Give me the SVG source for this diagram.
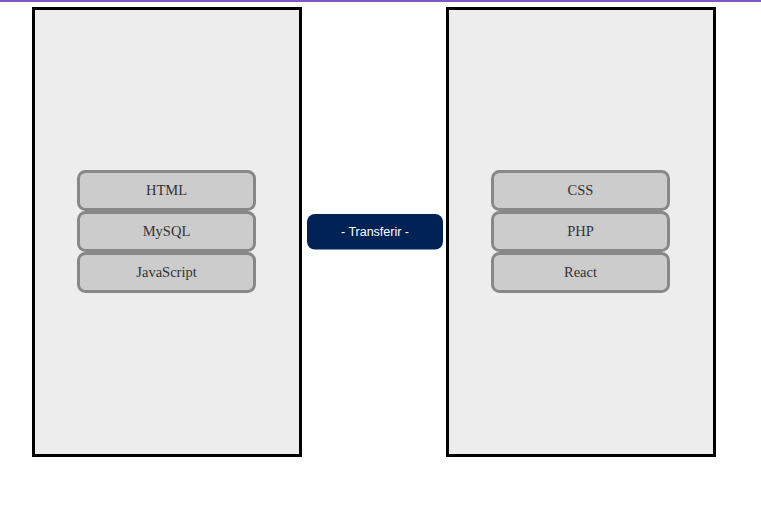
<svg xmlns="http://www.w3.org/2000/svg" width="761" height="509" viewBox="0 0 761 509">
<style>
.panel{fill:#ededed;stroke:#000;stroke-width:3}
.item{fill:#cccccc;stroke:#888888;stroke-width:3}
.lbl{font-family:"Liberation Serif","Times New Roman",serif;font-size:14.5px;fill:#333;text-anchor:middle}
.btn{fill:#002255}
.btnt{font-family:"Liberation Sans",Arial,sans-serif;font-size:12.5px;fill:#fff;text-anchor:middle}
</style>
<rect x="0" y="0" width="761" height="509" fill="#fff"/>
<rect x="0" y="0" width="761" height="2" fill="#7e57c2"/>
<g id="left-panel">
<rect class="panel" x="33.5" y="8.5" width="267" height="447"/>
</g>
<g id="right-panel">
<rect class="panel" x="447.5" y="8.5" width="267" height="447"/>
</g>
<g id="item-html"><rect class="item" x="78.5" y="171.5" width="176" height="38" rx="7"/><text class="lbl" x="166.5" y="195">HTML</text></g>
<g id="item-mysql"><rect class="item" x="78.5" y="212.5" width="176" height="38" rx="7"/><text class="lbl" x="166.5" y="236">MySQL</text></g>
<g id="item-javascript"><rect class="item" x="78.5" y="253.5" width="176" height="38" rx="7"/><text class="lbl" x="166.5" y="277">JavaScript</text></g>
<g id="item-css"><rect class="item" x="492.5" y="171.5" width="176" height="38" rx="7"/><text class="lbl" x="580.5" y="195">CSS</text></g>
<g id="item-php"><rect class="item" x="492.5" y="212.5" width="176" height="38" rx="7"/><text class="lbl" x="580.5" y="236">PHP</text></g>
<g id="item-react"><rect class="item" x="492.5" y="253.5" width="176" height="38" rx="7"/><text class="lbl" x="580.5" y="277">React</text></g>
<g id="btn-transferir"><rect class="btn" x="307" y="214" width="136" height="35.5" rx="8"/><text class="btnt" x="375" y="236">- Transferir -</text></g>
<g id="connectors"></g>
</svg>
